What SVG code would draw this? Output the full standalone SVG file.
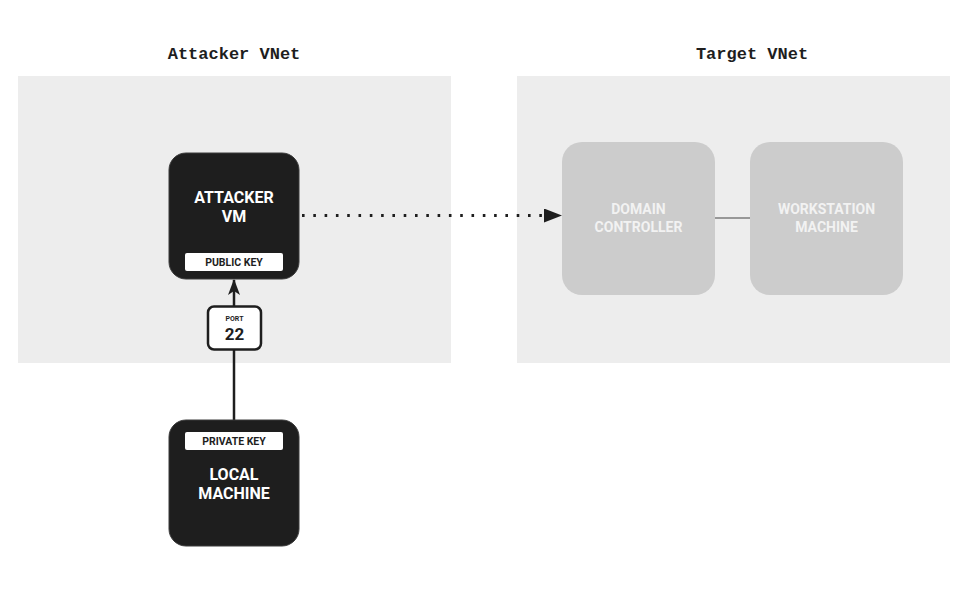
<svg xmlns="http://www.w3.org/2000/svg" width="968" height="594" viewBox="0 0 968 594">
<defs>
<style>
.vnet{fill:#ededed}
.title{font-family:"Liberation Mono",monospace;font-weight:bold;font-size:17px;fill:#1e1e1e;text-anchor:middle}
.dark{fill:#1e1e1e;stroke:#3a3a3a;stroke-width:1}
.light{fill:#cccccc}
.nt{font-family:Roboto,"Liberation Sans",sans-serif;font-weight:bold;font-size:16px;fill:#ffffff;text-anchor:middle}
.lt{font-family:Roboto,"Liberation Sans",sans-serif;font-weight:bold;font-size:14px;fill:#f2f2f2;text-anchor:middle}
.tag{fill:#ffffff}
.tt{font-family:Roboto,"Liberation Sans",sans-serif;font-weight:bold;font-size:10.5px;fill:#1e1e1e;text-anchor:middle}
</style>
<marker id="ah" viewBox="0 0 18 14" refX="17" refY="7" markerWidth="18" markerHeight="14" markerUnits="userSpaceOnUse" orient="auto">
<path d="M0,0 L18,7 L0,14 Z" fill="#1e1e1e"/>
</marker>
<marker id="ah2" viewBox="0 0 16 12" refX="15" refY="6" markerWidth="16" markerHeight="12" markerUnits="userSpaceOnUse" orient="auto">
<path d="M0,0 L16,6 L0,12 L4,6 Z" fill="#1e1e1e"/>
</marker>
</defs>
<rect width="968" height="594" fill="#ffffff"/>
<g id="attacker-vnet">
<rect class="vnet" x="18" y="76" width="433" height="287"/>
<text class="title" x="234" y="59">Attacker VNet</text>
</g>
<g id="target-vnet">
<rect class="vnet" x="517" y="76" width="433" height="287"/>
<text class="title" x="752" y="59">Target VNet</text>
</g>
<g id="connectors">
<line x1="715" y1="218" x2="750" y2="218" stroke="#444" stroke-width="1.2"/>
<line x1="302" y1="215.5" x2="561" y2="215.5" stroke="#1e1e1e" stroke-width="3" stroke-dasharray="2.6 8.7" marker-end="url(#ah)"/>
<line x1="234" y1="420" x2="234" y2="280" stroke="#1e1e1e" stroke-width="2.5" marker-end="url(#ah2)"/>
</g>
<g id="attacker-vm">
<rect class="dark" x="169" y="153" width="130" height="126" rx="17"/>
<text class="nt" x="234" y="203">ATTACKER</text>
<text class="nt" x="234" y="222">VM</text>
<rect class="tag" x="185" y="253" width="98" height="18" rx="2"/>
<text class="tt" x="234" y="266">PUBLIC KEY</text>
</g>
<g id="port-22">
<rect x="208" y="306.5" width="53" height="43" rx="6" fill="#ffffff" stroke="#1e1e1e" stroke-width="2.5"/>
<text class="tt" x="234.5" y="321" style="font-size:7px">PORT</text>
<text class="tt" x="234.5" y="340" style="font-size:17px">22</text>
</g>
<g id="local-machine">
<rect class="dark" x="169" y="420" width="130" height="126" rx="17"/>
<rect class="tag" x="185" y="432" width="98" height="18" rx="2"/>
<text class="tt" x="234" y="445">PRIVATE KEY</text>
<text class="nt" x="234" y="480">LOCAL</text>
<text class="nt" x="234" y="499">MACHINE</text>
</g>
<g id="domain-controller">
<rect class="light" x="562" y="142" width="153" height="153" rx="20"/>
<text class="lt" x="638.5" y="214">DOMAIN</text>
<text class="lt" x="638.5" y="232">CONTROLLER</text>
</g>
<g id="workstation-machine">
<rect class="light" x="750" y="142" width="153" height="153" rx="20"/>
<text class="lt" x="826.5" y="214">WORKSTATION</text>
<text class="lt" x="826.5" y="232">MACHINE</text>
</g>
</svg>
